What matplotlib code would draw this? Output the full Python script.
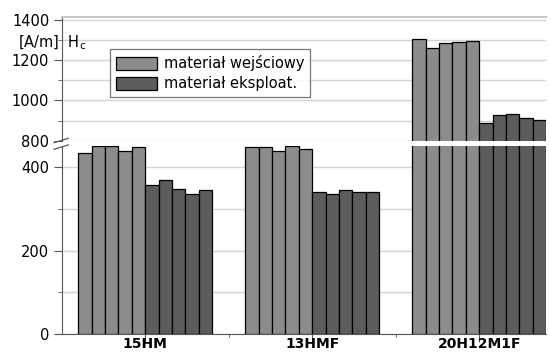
import matplotlib
matplotlib.use("Agg")
import matplotlib.pyplot as plt
import numpy as np
from matplotlib.ticker import MultipleLocator, FixedLocator

plt.rcParams['font.family'] = ['DejaVu Sans']

categories = ["15HM", "13HMF", "20H12M1F"]
series_names = ["materiał wejściowy", "materiał eksploat."]
# five samples per material per state [A/m]
initial = [
    [434, 452, 452, 440, 449],
    [449, 449, 439, 450, 443],
    [1307, 1260, 1286, 1293, 1296],
]
exploited = [
    [358, 369, 349, 337, 345],
    [341, 337, 345, 341, 341],
    [888, 928, 933, 913, 905],
]
lower_ticks = [0, 200, 400]
upper_ticks = [800, 1000, 1200, 1400]

c_light = "#8c8c8c"
c_dark = "#5c5c5c"
grid_c = "#d4d4d4"
spine_c = "#555555"

W, H = 550, 352
fig = plt.figure(figsize=(W / 100, H / 100), dpi=100)

x0 = 61.7
x1 = 546
y_low_bot, y_low_top = 334, 146
y_up_bot, y_up_top = 140.7, 17

ax_lo = fig.add_axes([x0 / W, (H - y_low_bot) / H, (x1 - x0) / W, (y_low_bot - y_low_top) / H])
ax_up = fig.add_axes([x0 / W, (H - y_up_bot) / H, (x1 - x0) / W, (y_up_bot - y_up_top) / H])

n = 5
bw = 0.08
for ax in (ax_lo, ax_up):
    for ci, cat in enumerate(categories):
        start = ci - 0.4 + bw / 2
        xs_l = start + bw * np.arange(n)
        xs_d = start + bw * (n + np.arange(n))
        ax.bar(xs_l, initial[ci], width=bw, color=c_light, edgecolor="black",
               linewidth=0.9, zorder=3, label=series_names[0] if ci == 0 else None)
        ax.bar(xs_d, exploited[ci], width=bw, color=c_dark, edgecolor="black",
               linewidth=0.9, zorder=3, label=series_names[1] if ci == 0 else None)
    ax.set_xlim(-0.5, 2.4)
    ax.yaxis.grid(True, which="both", color=grid_c, linewidth=1.0, zorder=0)
    ax.set_axisbelow(True)
    ax.spines["right"].set_visible(False)
    ax.spines["left"].set_color(spine_c)
    ax.tick_params(axis="y", which="major", length=6, color=spine_c, labelsize=10.5,
                   pad=3, labelcolor="black")
    ax.tick_params(axis="y", which="minor", length=3, color=spine_c)
    ax.yaxis.set_minor_locator(MultipleLocator(100))

ax_lo.set_ylim(0, 451)
ax_lo.set_yticks(lower_ticks)
ax_lo.spines["top"].set_visible(False)
ax_lo.spines["bottom"].set_color(spine_c)
ax_lo.set_xticks(range(len(categories)))
ax_lo.set_xticklabels(categories, fontweight="bold", fontsize=10)
ax_lo.xaxis.set_minor_locator(FixedLocator([0.5, 1.5]))
ax_lo.tick_params(axis="x", which="major", length=6, color=spine_c, pad=-3.5)
ax_lo.tick_params(axis="x", which="minor", length=2, color=spine_c)

ax_up.set_ylim(800, 1415)
ax_up.set_yticks(upper_ticks)
ax_up.spines["bottom"].set_visible(False)
ax_up.spines["top"].set_color("#c8c8c8")
ax_up.spines["top"].set_linewidth(1.5)
ax_up.set_xticks([])
ax_up.tick_params(axis="x", which="both", length=0)

# break marks on the left spine
for yy in (142.7, 149.3):
    fig.add_artist(plt.Line2D([54 / W, 68.3 / W], [(H - yy) / H, (H - yy + 4.4) / H],
                              color=spine_c, linewidth=0.9))

fig.text(18 / W, (H - 43) / H, "[A/m]  H$_\\mathregular{c}$", fontsize=10.5,
         va="center", ha="left")

leg = ax_up.legend(loc="upper left", bbox_to_anchor=((110 - x0) / (x1 - x0), (y_up_bot - 49.3) / (y_up_bot - y_up_top)),
                   fontsize=10.5, frameon=True, fancybox=False, edgecolor="#555555",
                   handlelength=2.8, handleheight=1.0, handletextpad=0.5,
                   borderpad=0.4, labelspacing=0.35, borderaxespad=0)
leg.get_frame().set_linewidth(0.9)
leg.set_zorder(5)

fig.savefig("out.png", dpi=100)
